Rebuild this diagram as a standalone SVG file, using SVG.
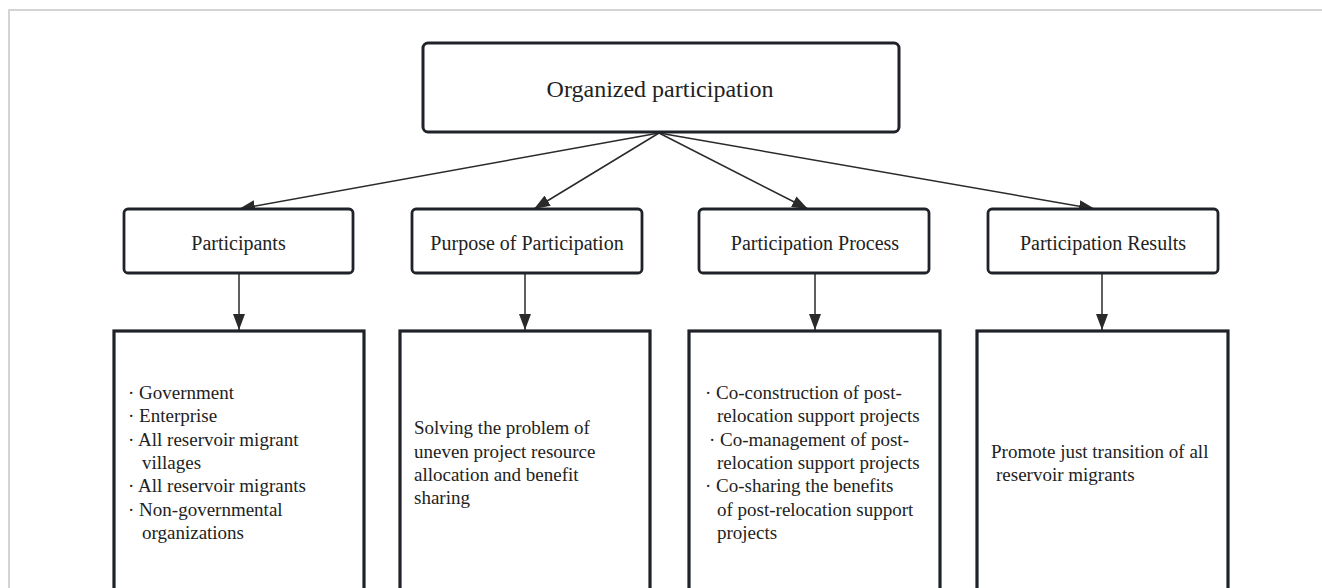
<svg xmlns="http://www.w3.org/2000/svg" width="1322" height="588" viewBox="0 0 1322 588">
<style>
.frame{fill:none;stroke:#d4d4d4;stroke-width:2}
.top{fill:#fff;stroke:#1f2329;stroke-width:3}
.mid{fill:#fff;stroke:#1f2329;stroke-width:2.8}
.box{fill:#fff;stroke:#1f2329;stroke-width:3.2}
.edge{fill:none;stroke:#2a2a2a;stroke-width:1.5}
text{font-family:"Liberation Serif","Times New Roman",serif;fill:#222}
.t1{font-size:24px}
.t2{font-size:20px}
.t3{font-size:19px}
</style>
<defs>
<marker id="arr" markerUnits="userSpaceOnUse" markerWidth="16" markerHeight="12" refX="16" refY="6" orient="auto">
<path d="M0,0 L16,6 L0,12 z" fill="#2a2a2a"/>
</marker>
</defs>
<rect width="1322" height="588" fill="#fff"/>
<path class="frame" d="M9,588 L9,10 L1322,10"/>

<g id="connectors">
<line class="edge" x1="659" y1="133" x2="239" y2="209" marker-end="url(#arr)"/>
<line class="edge" x1="659" y1="133" x2="534" y2="209" marker-end="url(#arr)"/>
<line class="edge" x1="659" y1="133" x2="808" y2="209" marker-end="url(#arr)"/>
<line class="edge" x1="659" y1="133" x2="1095" y2="209" marker-end="url(#arr)"/>
<line class="edge" x1="239" y1="273" x2="239" y2="330" marker-end="url(#arr)"/>
<line class="edge" x1="525" y1="273" x2="525" y2="330" marker-end="url(#arr)"/>
<line class="edge" x1="815" y1="273" x2="815" y2="330" marker-end="url(#arr)"/>
<line class="edge" x1="1102" y1="273" x2="1102" y2="330" marker-end="url(#arr)"/>
</g>

<g id="organized">
<rect class="top" x="423" y="43" width="476" height="89" rx="5"/>
<text class="t1" x="660" y="97" text-anchor="middle">Organized participation</text>
</g>

<g id="participants">
<rect class="mid" x="124" y="209" width="229" height="64" rx="4"/>
<text class="t2" x="238.5" y="250" text-anchor="middle">Participants</text>
</g>
<g id="purpose">
<rect class="mid" x="412" y="209" width="230" height="64" rx="4"/>
<text class="t2" x="527" y="250" text-anchor="middle">Purpose of Participation</text>
</g>
<g id="process">
<rect class="mid" x="699" y="209" width="230" height="64" rx="4"/>
<text class="t2" x="815" y="250" text-anchor="middle">Participation Process</text>
</g>
<g id="results">
<rect class="mid" x="988" y="209" width="230" height="64" rx="4"/>
<text class="t2" x="1103" y="250" text-anchor="middle">Participation Results</text>
</g>

<g id="participants-detail">
<rect class="box" x="114" y="331" width="250" height="280"/>
<text class="t3" x="128" y="399">· Government</text>
<text class="t3" x="128" y="422">· Enterprise</text>
<text class="t3" x="128" y="446">· All reservoir migrant</text>
<text class="t3" x="142" y="469">villages</text>
<text class="t3" x="128" y="492">· All reservoir migrants</text>
<text class="t3" x="128" y="516">· Non-governmental</text>
<text class="t3" x="142" y="539">organizations</text>
</g>

<g id="purpose-detail">
<rect class="box" x="400" y="331" width="250" height="280"/>
<text class="t3" x="414" y="434">Solving the problem of</text>
<text class="t3" x="414" y="457.5">uneven project resource</text>
<text class="t3" x="414" y="481">allocation and benefit</text>
<text class="t3" x="414" y="504">sharing</text>
</g>

<g id="process-detail">
<rect class="box" x="689" y="331" width="251" height="280"/>
<text class="t3" x="705" y="399">· Co-construction of post-</text>
<text class="t3" x="717" y="422">relocation support projects</text>
<text class="t3" x="709" y="446">· Co-management of post-</text>
<text class="t3" x="717" y="469">relocation support projects</text>
<text class="t3" x="705" y="492">· Co-sharing the benefits</text>
<text class="t3" x="717" y="516">of post-relocation support</text>
<text class="t3" x="717" y="539">projects</text>
</g>

<g id="results-detail">
<rect class="box" x="977" y="331" width="251" height="280"/>
<text class="t3" x="991" y="457.5">Promote just transition of all</text>
<text class="t3" x="996" y="481">reservoir migrants</text>
</g>
</svg>
